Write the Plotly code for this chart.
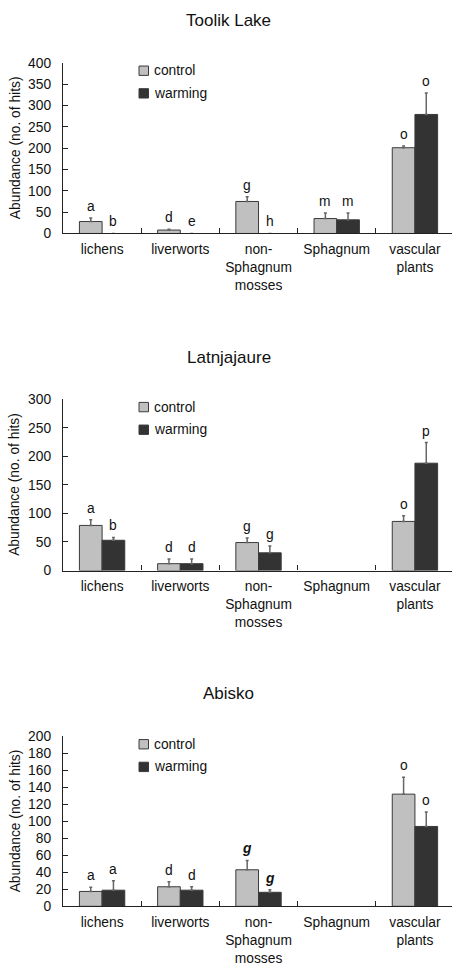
import plotly.graph_objects as go

# ---------------- data ----------------
categories = ["lichens", "liverworts", "non-Sphagnum mosses", "Sphagnum", "vascular plants"]
tick_labels = ["lichens", "liverworts", "non-<br>Sphagnum<br>mosses", "Sphagnum", "vascular<br>plants"]
sites = ["Toolik Lake", "Latnjajaure", "Abisko"]

toolik_control = [28, 8, 75, 35, 201]
toolik_control_err = [8, 2, 11, 13, 4]
toolik_warming = [0, 0, 0, 32, 279]
toolik_warming_err = [None, None, None, 16, 50]
toolik_control_letters = ["a", "d", "g", "m", "o"]
toolik_warming_letters = ["b", "e", "h", "m", "o"]

# Sphagnum not present at Latnjajaure / Abisko (no bar drawn)
latnja_control = [79, 12, 49, None, 86]
latnja_control_err = [10, 8, 8, None, 10]
latnja_warming = [53, 12, 31, None, 188]
latnja_warming_err = [5, 8, 12, None, 36]
latnja_control_letters = ["a", "d", "g", "", "o"]
latnja_warming_letters = ["b", "d", "g", "", "p"]

abisko_control = [17.5, 23, 43, None, 132]
abisko_control_err = [5, 6, 11, None, 20]
abisko_warming = [19, 19, 16.5, None, 94]
abisko_warming_err = [11, 4, 3, None, 17]
abisko_control_letters = ["a", "d", "<b><i>g</i></b>", "", "o"]
abisko_warming_letters = ["a", "d", "<b><i>g</i></b>", "", "o"]

y_max = [400, 300, 200]
y_dtick = [50, 50, 20]

panels = [
    (toolik_control, toolik_control_err, toolik_warming, toolik_warming_err,
     toolik_control_letters, toolik_warming_letters),
    (latnja_control, latnja_control_err, latnja_warming, latnja_warming_err,
     latnja_control_letters, latnja_warming_letters),
    (abisko_control, abisko_control_err, abisko_warming, abisko_warming_err,
     abisko_control_letters, abisko_warming_letters),
]

# ---------------- layout geometry (pixels) ----------------
W, H = 452, 980
FONT = "Liberation Sans, Arial, sans-serif"
FS = 13.8
plot_top = [56.7, 398.3, 740.7]
plot_bot = [230.0, 572.3, 913.3]
title_y = [14, 356, 697]
x_left = 63
CTRL = "#c0c0c0"
WARM = "#333333"
EDGE = "#3a3a3a"
ERRC = "#666666"


def py(px):
    return 1 - px / H


def pxx(px):
    return px / W


fig = go.Figure()
annotations = []
shapes = []

for i, (c, ce, w, we, cl, wl) in enumerate(panels):
    xa = "x" if i == 0 else f"x{i+1}"
    ya = "y" if i == 0 else f"y{i+1}"
    for vals, errs, name, col in ((c, ce, "control", CTRL), (w, we, "warming", WARM)):
        fig.add_trace(go.Bar(
            x=categories, y=vals, name=name, showlegend=False,
            marker=dict(color=col, line=dict(color=EDGE,
                                             width=[1 if v else 0 for v in vals])),
            error_y=dict(type="data", array=errs, symmetric=False,
                         arrayminus=[None if e is None else 0 for e in errs],
                         color=ERRC, thickness=1.5, width=1.5),
            xaxis=xa, yaxis=ya))

    # significance letters
    for vals, errs, letters, off in ((c, ce, cl, -0.145), (w, we, wl, 0.145)):
        for k, (v, e, t) in enumerate(zip(vals, errs, letters)):
            if not t:
                continue
            top = (v or 0) + (e or 0)
            annotations.append(dict(
                x=k + off, y=top, xref=xa, yref=ya, text=t, showarrow=False,
                xanchor="center", yanchor="bottom", yshift=2,
                font=dict(family=FONT, size=FS, color="#111")))

    dom = [py(plot_bot[i]), py(plot_top[i])]
    fig.layout[("xaxis" if i == 0 else f"xaxis{i+1}")] = dict(
        domain=[pxx(x_left), 1], anchor=ya, type="category",
        range=[-0.5, 4.474], tickmode="array", tickvals=categories,
        ticktext=tick_labels, tickson="boundaries", ticks="inside", ticklen=5,
        tickcolor="#222", showline=True, linecolor="#222", linewidth=1.2,
        showgrid=False, zeroline=False, fixedrange=True,
        tickfont=dict(family=FONT, size=FS, color="#111"), ticklabelstandoff=3)
    fig.layout[("yaxis" if i == 0 else f"yaxis{i+1}")] = dict(
        domain=dom, anchor=xa, range=[0, y_max[i]], dtick=y_dtick[i],
        ticks="inside", ticklen=5, tickcolor="#222", showline=True,
        linecolor="#222", linewidth=1.2, showgrid=False, zeroline=False,
        fixedrange=True, ticklabelstandoff=8,
        tickfont=dict(family=FONT, size=FS, color="#111"))

    # panel title
    annotations.append(dict(
        x=pxx(229), y=py(title_y[i]), xref="paper", yref="paper",
        text=sites[i], showarrow=False, xanchor="center", yanchor="middle",
        font=dict(family=FONT, size=17, color="#111")))
    # y-axis title
    annotations.append(dict(
        x=pxx(15), y=(dom[0] + dom[1]) / 2, xref="paper", yref="paper",
        text="Abundance (no. of hits)", textangle=-90, showarrow=False,
        xanchor="center", yanchor="middle",
        font=dict(family=FONT, size=FS, color="#111")))
    # legend
    for j, (lab, col) in enumerate((("control", CTRL), ("warming", WARM))):
        cy = plot_top[i] + 8 + 23 * j
        shapes.append(dict(
            type="rect", xref="paper", yref="paper",
            x0=pxx(139), x1=pxx(148.5), y0=py(cy + 4.75), y1=py(cy - 4.75),
            fillcolor=col, line=dict(color=EDGE, width=1)))
        annotations.append(dict(
            x=pxx(152), y=py(cy), xref="paper", yref="paper", text=lab,
            showarrow=False, xanchor="left", yanchor="middle",
            font=dict(family=FONT, size=FS, color="#111")))

fig.update_layout(
    width=W, height=H, margin=dict(l=0, r=0, t=0, b=0),
    paper_bgcolor="white", plot_bgcolor="white",
    barmode="group", bargap=0.42, bargroupgap=0,
    annotations=annotations, shapes=shapes, showlegend=False,
    font=dict(family=FONT, size=FS, color="#111"))

fig.write_html("out.html", config={"displayModeBar": False})
